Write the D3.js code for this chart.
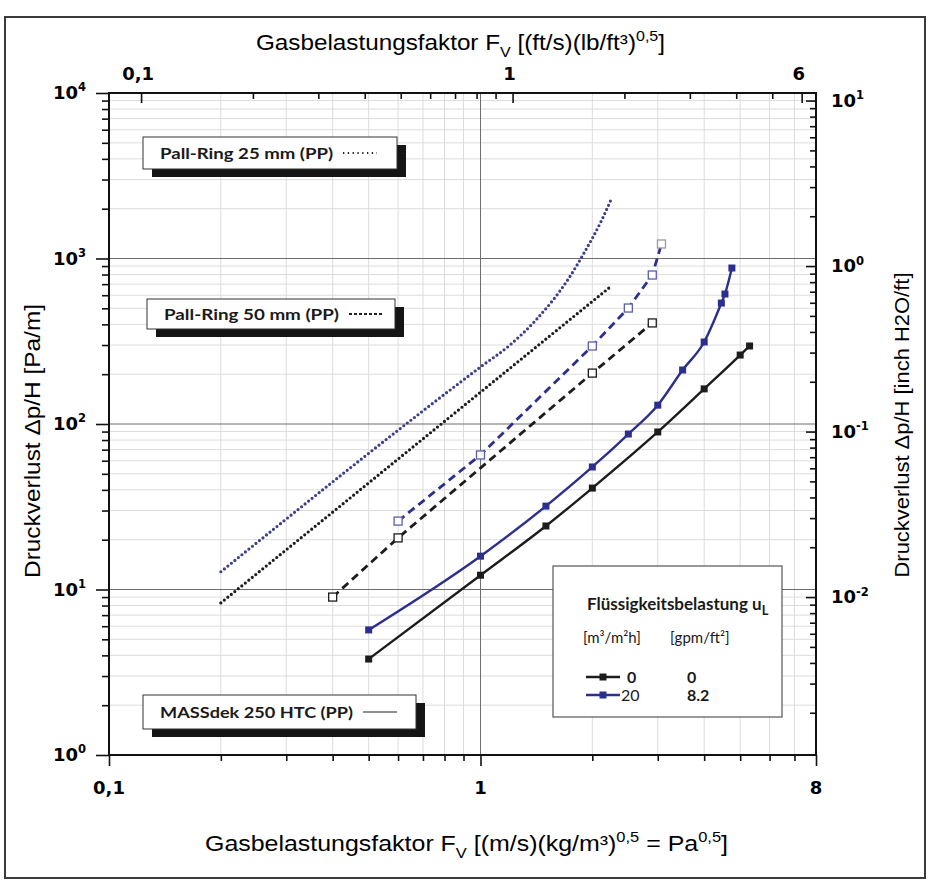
<!DOCTYPE html>
<html>
<head>
<meta charset="utf-8">
<script src="https://cdn.jsdelivr.net/npm/d3@7"></script>
<style>
  body { margin: 0; background: #fff; }
</style>
</head>
<body>
<div id="chart"></div>
<script>
var width = 931,
    height = 883;

// MASSdek 250 HTC (PP), solid lines, uL = 0 / 20
var massX0 = [0.5, 1.0, 1.5, 2.0, 3.0, 4.0, 5.0, 5.3];
var massY0 = [3.8, 12.2, 24.2, 41, 89.5, 163, 261, 296];
var massX20 = [0.5, 1.0, 1.5, 2.0, 2.5, 3.0, 3.5, 4.0, 4.45, 4.55, 4.75];
var massY20 = [5.7, 15.9, 31.9, 55, 87, 130, 212, 313, 538, 610, 876];

// Pall-Ring 50 mm (PP), dashed
var pall50X0 = [0.4, 0.6, 2.0, 2.9];
var pall50Y0 = [9.0, 20.5, 203, 408];
var pall50X20 = [0.6, 1.0, 2.0, 2.5, 2.9, 3.07];
var pall50Y20 = [25.9, 65, 296, 502, 795, 1224];

// Pall-Ring 25 mm (PP), dotted
var pall25X0 = [0.2, 2.25];
var pall25Y0 = [8.3, 682];
var pall25X20 = [0.2, 1.0, 1.2, 1.41, 1.73, 1.9, 2.12, 2.25];
var pall25Y20 = [12.8, 221, 300, 425, 762, 1080, 1708, 2290];

// axis ticks
var bottomMajor = [0.1, 1, 8];
var bottomLabels = ["0,1", "1", "8"];
var bottomMinor = [0.2, 0.3, 0.4, 0.5, 0.6, 0.7, 0.8, 0.9, 2, 3, 4, 5, 6, 7];
var topMajor = [0.1, 1, 6];
var topLabels = ["0,1", "1", "6"];
var topMinor = [0.2, 0.3, 0.4, 0.5, 0.6, 0.7, 0.8, 0.9, 2, 3, 4, 5];
var leftExp = [0, 1, 2, 3, 4];
var rightExp = [-2, -1, 0, 1];

var ftFactor = 0.8197;    // Pa^0.5 -> (ft/s)(lb/ft3)^0.5
var inchFactor = 1 / 900; // Pa/m -> inch H2O/ft (as drawn)

var x0 = 109, x1 = 816, y0 = 755, y1 = 93;

var x = d3.scaleLog().domain([0.1, 8]).range([x0, x1]);
var y = d3.scaleLog().domain([1, 10000]).range([y0, y1]);
var xTop = d3.scaleLog().domain([0.1 * ftFactor, 8 * ftFactor]).range([x0, x1]);
var yRight = d3.scaleLog().domain([1 * inchFactor, 10000 * inchFactor]).range([y0, y1]);

var svg = d3.select("#chart").append("svg")
    .attr("width", width)
    .attr("height", height)
    .style("font-family", "'Liberation Sans', Arial, sans-serif");

// outer frame
svg.append("rect")
    .attr("x", 5).attr("y", 17)
    .attr("width", 920).attr("height", 861)
    .attr("fill", "none")
    .attr("stroke", "#3a3a3a")
    .attr("stroke-width", 2);

// minor grid
var yMinor = [];
[1, 10, 100, 1000].forEach(function(d) {
  [2, 3, 4, 5, 6, 7, 8, 9].forEach(function(m) { yMinor.push(d * m); });
});
var grid = svg.append("g");
grid.selectAll(".vminor")
    .data(bottomMinor)
  .enter().append("line")
    .attr("x1", function(d) { return x(d); })
    .attr("x2", function(d) { return x(d); })
    .attr("y1", y1).attr("y2", y0)
    .attr("stroke", "#dcdcdc");
grid.selectAll(".hminor")
    .data(yMinor)
  .enter().append("line")
    .attr("y1", function(d) { return y(d); })
    .attr("y2", function(d) { return y(d); })
    .attr("x1", x0).attr("x2", x1)
    .attr("stroke", "#dcdcdc");
// major grid
grid.append("line")
    .attr("x1", x(1)).attr("x2", x(1))
    .attr("y1", y1).attr("y2", y0)
    .attr("stroke", "#6e6e6e");
grid.selectAll(".hmajor")
    .data([10, 100, 1000])
  .enter().append("line")
    .attr("y1", function(d) { return y(d); })
    .attr("y2", function(d) { return y(d); })
    .attr("x1", x0).attr("x2", x1)
    .attr("stroke", "#6e6e6e");

// axes (ticks only, labels drawn separately)
function tickAxis(axis, scale, values, size, tx, ty) {
  var g = svg.append("g")
      .attr("transform", "translate(" + tx + "," + ty + ")")
      .call(axis(scale).tickValues(values).tickSize(size).tickFormat(""));
  g.select(".domain").remove();
  g.selectAll("line").attr("stroke", "#111").attr("stroke-width", 1.6);
}
var yMajor = leftExp.map(function(e) { return Math.pow(10, e); });
var rMajor = rightExp.map(function(e) { return Math.pow(10, e); });
var rMinor = [];
[0.001, 0.01, 0.1, 1].forEach(function(d) {
  [2, 3, 4, 5, 6, 7, 8, 9].forEach(function(m) { rMinor.push(d * m); });
});
rMinor = rMinor.filter(function(v) { return v >= 1 * inchFactor && v <= 10000 * inchFactor; });

tickAxis(d3.axisBottom, x, bottomMajor, 11, 0, y0);
tickAxis(d3.axisBottom, x, bottomMinor, 6, 0, y0);
tickAxis(d3.axisLeft, y, yMajor, 13, x0, 0);
tickAxis(d3.axisLeft, y, yMinor, 7, x0, 0);
tickAxis(d3.axisBottom, xTop, topMajor, 10, 0, y1);
tickAxis(d3.axisBottom, xTop, topMinor, 6, 0, y1);
tickAxis(d3.axisLeft, yRight, rMajor, 10, x1, 0);
tickAxis(d3.axisLeft, yRight, rMinor, 6, x1, 0);

// plot frame
svg.append("rect")
    .attr("x", x0).attr("y", y1)
    .attr("width", x1 - x0).attr("height", y0 - y1)
    .attr("fill", "none")
    .attr("stroke", "#111")
    .attr("stroke-width", 2);

// text helper with sub / superscripts
function addParts(t, parts, size, ratio) {
  var shift = 0;
  parts.forEach(function(p) {
    var target = p[1] === "sup" ? -size * 0.42 : (p[1] === "sub" ? size * 0.3 : 0);
    var s = t.append("tspan").text(p[0]).attr("dy", target - shift);
    if (p[1] !== "n") s.attr("font-size", size * (ratio || 0.66));
    shift = target;
  });
}

// tick labels
var tickFont = 18;
var heavy = "'DejaVu Sans', 'Liberation Sans', sans-serif";
svg.selectAll(".blab")
    .data(bottomMajor)
  .enter().append("text")
    .attr("x", function(d) { return x(d); })
    .attr("y", 794)
    .attr("text-anchor", "middle")
    .attr("font-family", heavy)
    .attr("font-size", tickFont)
    .attr("font-weight", "bold")
    .text(function(d, i) { return bottomLabels[i]; });
svg.selectAll(".tlab")
    .data(topMajor)
  .enter().append("text")
    .attr("x", function(d) { return xTop(d) - 3; })
    .attr("y", 80)
    .attr("text-anchor", "middle")
    .attr("font-family", heavy)
    .attr("font-size", tickFont)
    .attr("font-weight", "bold")
    .text(function(d, i) { return topLabels[i]; });
leftExp.forEach(function(e) {
  var t = svg.append("text")
      .attr("x", 86)
      .attr("y", y(Math.pow(10, e)) + 6)
      .attr("text-anchor", "end")
      .attr("font-family", heavy)
      .attr("font-size", tickFont)
      .attr("font-weight", "bold");
  addParts(t, [["10", "n"], [String(e), "sup"]], tickFont, 0.64);
});
rightExp.forEach(function(e) {
  var t = svg.append("text")
      .attr("x", 831)
      .attr("y", yRight(Math.pow(10, e)) + 6)
      .attr("font-family", heavy)
      .attr("font-size", tickFont)
      .attr("font-weight", "bold");
  addParts(t, [["10", "n"], [String(e), "sup"]], tickFont, 0.64);
});

// axis titles
var titleFont = 22;
var tTop = svg.append("text")
    .attr("x", 256).attr("y", 50)
    .attr("font-size", titleFont)
    .attr("textLength", 409)
    .attr("lengthAdjust", "spacingAndGlyphs");
addParts(tTop, [["Gasbelastungsfaktor F", "n"], ["V", "sub"], [" [(ft/s)(lb/ft³)", "n"], ["0,5", "sup"], ["]", "n"]], titleFont);

var tBot = svg.append("text")
    .attr("x", 205).attr("y", 851)
    .attr("font-size", titleFont)
    .attr("textLength", 523)
    .attr("lengthAdjust", "spacingAndGlyphs");
addParts(tBot, [["Gasbelastungsfaktor F", "n"], ["V", "sub"], [" [(m/s)(kg/m³)", "n"], ["0,5", "sup"], [" = Pa", "n"], ["0,5", "sup"], ["]", "n"]], titleFont);

svg.append("text")
    .attr("transform", "translate(40,441) rotate(-90)")
    .attr("text-anchor", "middle")
    .attr("font-size", 22)
    .attr("textLength", 274)
    .attr("lengthAdjust", "spacingAndGlyphs")
    .text("Druckverlust Δp/H [Pa/m]");
svg.append("text")
    .attr("transform", "translate(909,425) rotate(-90)")
    .attr("text-anchor", "middle")
    .attr("font-size", 21)
    .attr("textLength", 305)
    .attr("lengthAdjust", "spacingAndGlyphs")
    .text("Druckverlust Δp/H [inch H2O/ft]");

// packing name boxes
var calib = "Lato, 'Open Sans', sans-serif";
function nameBox(bx, by, bw, bh, label, textW, sample) {
  svg.append("rect")
      .attr("x", bx + 9).attr("y", by + 8)
      .attr("width", bw).attr("height", bh)
      .attr("fill", "#151515");
  svg.append("rect")
      .attr("x", bx).attr("y", by)
      .attr("width", bw).attr("height", bh)
      .attr("fill", "#fff")
      .attr("stroke", "#333")
      .attr("stroke-width", 1);
  svg.append("text")
      .attr("x", bx + 17).attr("y", by + bh / 2 + 5.5)
      .attr("font-family", calib)
      .attr("font-weight", "bold")
      .attr("font-size", 16)
      .attr("fill", "#1a1a1a")
      .attr("textLength", textW)
      .attr("lengthAdjust", "spacingAndGlyphs")
      .text(label);
  svg.append("line")
      .attr("x1", bx + 17 + textW + 10).attr("x2", bx + 17 + textW + 44)
      .attr("y1", by + bh / 2).attr("y2", by + bh / 2)
      .attr("stroke", "#222")
      .attr("stroke-width", sample === "solid" ? 1.2 : 1.8)
      .attr("stroke-dasharray", sample === "dot" ? "1.3,3.5" : (sample === "dash" ? "3,2" : null));
}
nameBox(143, 137, 254, 32, "Pall-Ring 25 mm (PP)", 173, "dot");
nameBox(147, 299, 248, 30, "Pall-Ring 50 mm (PP)", 175, "dash");
nameBox(143, 695, 273, 34, "MASSdek 250 HTC (PP)", 193, "solid");

// series
var black = "#1c1c1c", blue = "#2c2f8e";
function pts(xs, ys) {
  return xs.map(function(v, i) { return [v, ys[i]]; });
}
function drawLine(data, color, dash, curve, w) {
  svg.append("path")
      .datum(data)
      .attr("fill", "none")
      .attr("stroke", color)
      .attr("stroke-width", w)
      .attr("stroke-linecap", dash === "dot" ? "round" : "butt")
      .attr("stroke-dasharray", dash === "dot" ? "0,4.5" : (dash === "dash" ? "8,5" : null))
      .attr("d", d3.line()
        .x(function(d) { return x(d[0]); })
        .y(function(d) { return y(d[1]); })
        .curve(curve));
}

drawLine(pts(pall25X0, pall25Y0), black, "dot", d3.curveLinear, 3.2);
drawLine(pts(pall25X20, pall25Y20), "#3b3f8c", "dot", d3.curveMonotoneX, 3.2);
drawLine(pts(pall50X0, pall50Y0), black, "dash", d3.curveLinear, 2.8);
drawLine(pts(pall50X20, pall50Y20), blue, "dash", d3.curveLinear, 2.8);
drawLine(pts(massX0, massY0), black, "solid", d3.curveMonotoneX, 2.4);
drawLine(pts(massX20, massY20), blue, "solid", d3.curveMonotoneX, 2.4);

function openSquares(data, color, lastColor) {
  svg.selectAll(null)
      .data(data)
    .enter().append("rect")
      .attr("x", function(d) { return x(d[0]) - 4; })
      .attr("y", function(d) { return y(d[1]) - 4; })
      .attr("width", 8).attr("height", 8)
      .attr("fill", "#fff")
      .attr("stroke", function(d, i) { return (lastColor && i === data.length - 1) ? lastColor : color; })
      .attr("stroke-width", 1.3);
}
function filledSquares(data, color) {
  svg.selectAll(null)
      .data(data)
    .enter().append("rect")
      .attr("x", function(d) { return x(d[0]) - 3.5; })
      .attr("y", function(d) { return y(d[1]) - 3.5; })
      .attr("width", 7).attr("height", 7)
      .attr("fill", color);
}
openSquares(pts(pall50X0, pall50Y0), black);
openSquares(pts(pall50X20, pall50Y20), "#5a5fa8", "#9a9a9a");
filledSquares(pts(massX0, massY0), black);
filledSquares(pts(massX20, massY20), blue);

// liquid load legend
var lg = svg.append("g");
lg.append("rect")
    .attr("x", 553).attr("y", 566)
    .attr("width", 229).attr("height", 151)
    .attr("fill", "#fff")
    .attr("stroke", "#555")
    .attr("stroke-width", 1.2);
var lt = lg.append("text")
    .attr("x", 587).attr("y", 610)
    .attr("font-family", calib)
    .attr("font-weight", "bold")
    .attr("font-size", 17)
    .attr("fill", "#1a1a1a");
addParts(lt, [["Flüssigkeitsbelastung u", "n"], ["L", "sub"]], 17, 0.75);
lg.append("text")
    .attr("x", 583).attr("y", 643)
    .attr("font-family", calib)
    .attr("font-size", 15)
    .attr("fill", "#1a1a1a")
    .text("[m³/m²h]");
lg.append("text")
    .attr("x", 670).attr("y", 643)
    .attr("font-family", calib)
    .attr("font-size", 15)
    .attr("fill", "#1a1a1a")
    .text("[gpm/ft²]");

var liquidSI = ["0", "20"];
var liquidUS = ["0", "8.2"];
var liquidColors = [black, blue];
liquidSI.forEach(function(v, i) {
  var ly = 677 + i * 18;
  lg.append("line")
      .attr("x1", 586).attr("x2", 620)
      .attr("y1", ly).attr("y2", ly)
      .attr("stroke", liquidColors[i])
      .attr("stroke-width", 2.4);
  lg.append("rect")
      .attr("x", 599.5).attr("y", ly - 3.5)
      .attr("width", 7).attr("height", 7)
      .attr("fill", liquidColors[i]);
  lg.append("text")
      .attr("x", i === 0 ? 627 : 621).attr("y", ly + 6)
      .attr("font-family", calib)
      .attr("font-weight", i === 0 ? "bold" : "normal")
      .attr("font-size", 16)
      .attr("fill", "#1a1a1a")
      .text(v);
  lg.append("text")
      .attr("x", 687).attr("y", ly + 6)
      .attr("font-family", calib)
      .attr("font-weight", "bold")
      .attr("font-size", 16)
      .attr("fill", "#1a1a1a")
      .text(liquidUS[i]);
});
</script>
</body>
</html>
